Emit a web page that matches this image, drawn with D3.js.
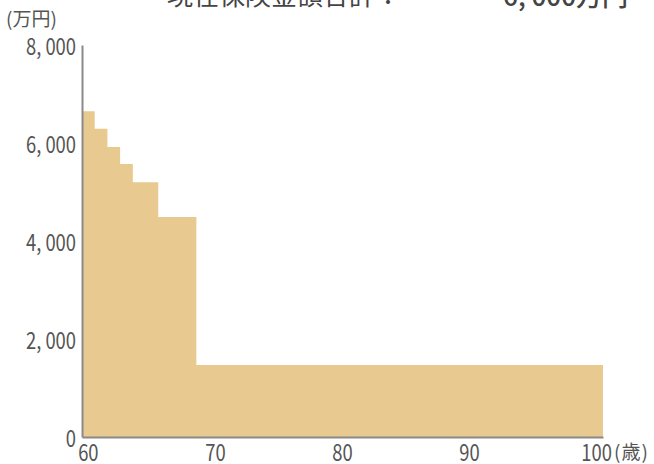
<!DOCTYPE html>
<html><head><meta charset="utf-8">
<script src="https://cdn.jsdelivr.net/npm/d3@7"></script>
<style>
html,body{margin:0;padding:0;background:#fff;}
svg{display:block;}
text{font-family:"Noto Sans CJK JP","Noto Sans",sans-serif;}
</style></head>
<body>
<svg id="chart" width="654" height="464"></svg>
<script>
// ---- data ----
const ages = d3.range(60, 101);               // 60 .. 100 (歳)
const amounts = [6650, 6290, 5920, 5570, 5200, 5200, 4490, 4490, 4490,
  1470,1470,1470,1470,1470,1470,1470,1470,1470,1470,1470,
  1470,1470,1470,1470,1470,1470,1470,1470,1470,1470,1470,
  1470,1470,1470,1470,1470,1470,1470,1470,1470,1470]; // 万円
const yTicks = [0, 2000, 4000, 6000, 8000];
const xTicks = [60, 70, 80, 90, 100];
const titleLabel = "現在保険金額合計：";
const titleValue = "6, 000万円";
const yUnit = "(万円)";
const xUnit = "(歳)";

const svg = d3.select("#chart");
const mLeft = 82, mRight = 603, mTop = 45, mBottom = 437;

const x = d3.scaleBand().domain(ages).range([mLeft, mRight]).padding(0);
const y = d3.scaleLinear().domain([0, 8000]).range([mBottom, mTop]);

// step area
const pts = ages.map((a, i) => ({x: x(a), v: amounts[i]}));
pts.push({x: x(ages[ages.length-1]) + x.bandwidth(), v: amounts[amounts.length-1]});
const area = d3.area().x(d => d.x).y0(y(0)).y1(d => y(d.v)).curve(d3.curveStepAfter);
svg.append("path").datum(pts).attr("d", area).attr("fill", "#E8C98F");

const fmt = v => d3.format(",")(v).replace(",", ", ");

// y axis
const gy = svg.append("g").attr("transform", `translate(${mLeft},0)`)
  .call(d3.axisLeft(y).tickValues(yTicks).tickSize(0).tickFormat(fmt));
gy.select(".domain").attr("stroke", "#8a8a8a").attr("stroke-width", 2);
gy.selectAll(".tick text")
  .attr("x", 0).attr("dy", "0.36em")
  .attr("transform", "translate(-6,1) scale(0.8,1)")
  .attr("fill", "#555").style("font-size", "23px");

// x axis
const gx = svg.append("g").attr("transform", `translate(0,${mBottom})`)
  .call(d3.axisBottom(x).tickValues(xTicks).tickSize(0));
gx.select(".domain").attr("stroke", "#8a8a8a").attr("stroke-width", 2);
gx.selectAll(".tick text")
  .attr("y", 0).attr("dy", 0)
  .attr("transform", "translate(0,24) scale(0.8,1)")
  .attr("fill", "#555").style("font-size", "23px");

// units
svg.append("text").attr("x", 6).attr("y", 26).text(yUnit)
  .attr("fill", "#555").style("font-size", "19px");
svg.append("text").attr("x", 614).attr("y", 459).text(xUnit)
  .attr("fill", "#555").style("font-size", "19px").style("letter-spacing", "1px");

// title (cut off at top)
svg.append("text").attr("x", 167).attr("y", 5).text(titleLabel)
  .attr("fill", "#444").style("font-size", "26px");
svg.append("text").attr("x", 628).attr("y", 6).attr("text-anchor", "end").text(titleValue)
  .attr("fill", "#444").style("font-size", "26px").style("font-weight", "500");
</script>
</body></html>
